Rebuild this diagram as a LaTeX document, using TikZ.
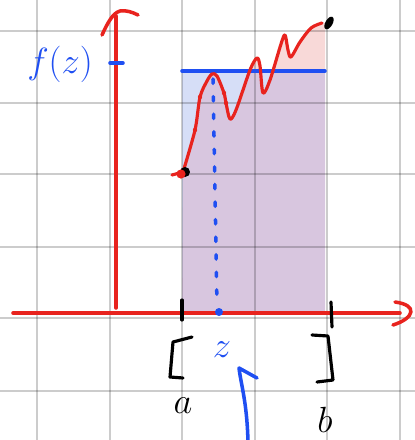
\documentclass[tikz,border=0pt]{standalone}
\usepackage{tikz}
\usetikzlibrary{arrows.meta, calc}
\definecolor{skred}{HTML}{E8231E}
\definecolor{skblue}{HTML}{1F4FF2}
\definecolor{skrect}{HTML}{D6DEF7}
\definecolor{skpurple}{HTML}{D8C6DF}
\definecolor{skpink}{HTML}{F8D9D8}

% the wiggly function, in pixel coordinates
\newcommand{\fplot}[2]{\path[#1] #2 -- plot[smooth, tension=0.5] coordinates {(183,172)
  (195,130) (200,97) (207,81) (212,74) (217,76) (224,93) (226,103) (230,119)
  (236,110) (250,70) (257,58) (260,66) (263,93) (270,80) (281,44) (285,35)
  (288,50) (291,57) (300,42) (311,28) (322,23)}}

\begin{document}
\begin{tikzpicture}[x=0.02cm, y=-0.02cm,
  every node/.style={font=\fontsize{22}{26}\selectfont},
  gridline/.style={draw=black, draw opacity=0.2, line width=1.1pt},
  axis/.style={draw=skred, line width=2pt, line cap=round, line join=round},
  ink/.style={draw=black, line width=1.8pt, line cap=round, line join=round},
  blueink/.style={draw=skblue, line width=2pt, line cap=round, line join=round},
  curve/.style={draw=skred, line width=1.8pt, line cap=round, line join=round}
]

\useasboundingbox[fill=white] (0,0) rectangle (415,440);

% Shaded areas
\fill[skrect] (182,71) rectangle (325,313);
\begin{scope}
  \clip (182,71) rectangle (325,313);
  \fplot{fill=skpurple}{(182,313)} -- (325,23) -- (325,313) -- cycle;
\end{scope}
\begin{scope}
  \clip (182,0) rectangle (325,71);
  \fplot{fill=skpink}{(182,313)} -- (325,23) -- (325,313) -- cycle;
\end{scope}

% Grid
\foreach \gx in {37,110,182,255,327,400}
  \draw[gridline] (\gx,0) -- (\gx,440);
\foreach \gy in {31,103,174,247,318,391}
  \draw[gridline] (0,\gy) -- (415,\gy);

% Axes
\draw[axis] (13,313) -- (400,313);
\draw[axis] (395,302) .. controls (418,305) and (415,318) .. (393,325);
\draw[axis] (116,308) -- (116,16);
\draw[axis] (102,35) .. controls (108,22) and (113,13) .. (120,11)
  .. controls (126,10) and (132,12) .. (138,15);

% Level f(z)
\draw[blueink] (182,71) -- (325,71);
\draw[blueink] (110,63) -- (123,63);
\draw[skblue, line width=2pt, line cap=round, dash pattern=on 2.5pt off 7.5pt]
  (213,79) -- (217,306);
\fill[skblue] (219,312) circle (4);

% Function
\fplot{curve}{(172,175)};
\foreach \mx/\my in {195/130, 200/97, 224/93, 226/103}
  \fill[skred] (\mx,\my) circle (2.2);
\fill[black] (185,172) circle (5);
\fill[skred] (181,174) circle (4.6);
\fill[black, rotate around={-30:(329,23)}] (329,23) ellipse (3.6 and 7);

% Interval
\draw[ink] (182,300) -- (182,320);
\draw[ink] (331,302) -- (332,327);
\draw[ink] (192,337) -- (173,342) -- (170,377) -- (183,378);
\draw[ink] (312,335) -- (328,336) -- (333,380) -- (317,382);

% Labels
\node[text=skblue] (fz) at (60,64) {$f(z)$};
\node[text=skblue] (zlbl) at (222,350) {$z$};
\node (albl) at (183,406) {$a$};
\node (blbl) at (325,420) {$b$};

% Pointer
\coordinate (pfoot) at (248,442);
\coordinate (ptip) at (239,368);
\draw[blueink] (pfoot) .. controls (247,402) and (241,385) .. (ptip) -- (257,378);

\end{tikzpicture}
\end{document}
